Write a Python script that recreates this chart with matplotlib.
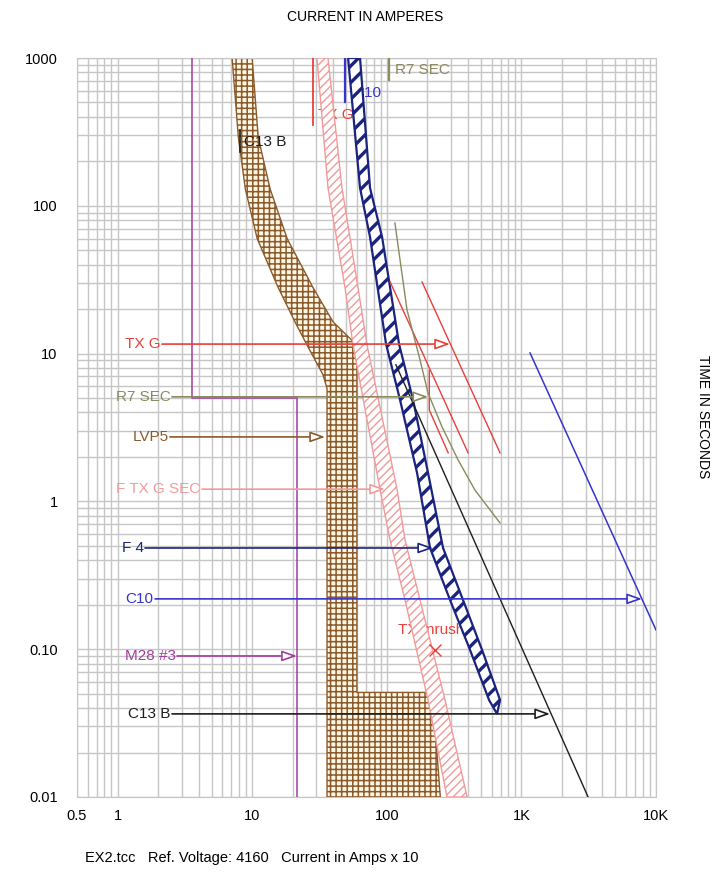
import numpy as np
import matplotlib
matplotlib.use('Agg')
import matplotlib.pyplot as plt
from matplotlib.patches import Polygon
from matplotlib.ticker import FixedLocator, FixedFormatter, LogLocator, NullFormatter

plt.rcParams['font.family'] = ['Liberation Sans', 'DejaVu Sans']

# ---------------- axis ticks ----------------
x_ticks = [0.5, 1, 10, 100, 1000, 10000]
x_tick_labels = ['0.5', '1', '10', '100', '1K', '10K']
y_ticks = [0.01, 0.1, 1, 10, 100, 1000]
y_tick_labels = ['0.01', '0.10', '1', '10', '100', '1000']

# ---------------- C13 B breaker band (current A x10, time s) ----------------
c13b_left_i = [7.1, 7.9, 8.9, 10.9, 15.6, 20.8, 25.6, 33.6, 36.0, 36.0]
c13b_left_t = [1000, 290, 130, 60, 28, 16.4, 11.4, 7.2, 5.8, 0.01]
c13b_right_i = [10.0, 11.1, 13.6, 18.2, 28.3, 39.9, 60.0, 60.0, 218, 250]
c13b_right_t = [1000, 290, 130, 60, 28, 16.4, 11.4, 0.051, 0.051, 0.01]

# ---------------- F TX G SEC fuse band ----------------
ftx_left_i = [30.3, 36.6, 49.0, 56.2, 89.1, 105.8, 136.7, 202.6, 280]
ftx_right_i = [36.6, 46.5, 61.2, 71.4, 119.2, 136.7, 176.7, 271, 395]
ftx_t = [1000, 132, 27.8, 11.4, 1.21, 0.548, 0.215, 0.0453, 0.01]

# ---------------- F 4 fuse band ----------------
f4_left_i = [51.6, 63.3, 75.1, 98.8, 125.5, 167.9, 209.7, 295.3, 415.6, 575.3, 659.7]
f4_right_i = [63.3, 75.1, 92.3, 123.4, 156.8, 202.6, 261.9, 368.7, 510.5, 694.3, 659.7]
f4_t = [1000, 132, 61.5, 11.6, 4.86, 1.56, 0.484, 0.215, 0.0988, 0.0453, 0.0365]

# ---------------- M28 #3 ----------------
m28_i = [3.57, 3.57, 21.5, 21.5]
m28_t = [1000, 5.0, 5.0, 0.01]

# ---------------- TX G damage curve ----------------
txg_a_i = [183, 694]
txg_a_t = [30.5, 2.13]
txg_b_i = [106, 402]
txg_b_t = [30.5, 2.13]
txg_c_i = [207, 207, 286]
txg_c_t = [7.7, 4.15, 2.13]
txg_lead_i = [28.3, 28.3]
txg_lead_t = [1000, 350]

# ---------------- R7 SEC ----------------
r7_i = [115, 125.5, 141.5, 176.7, 202.6, 257.5, 338.5, 452.8, 694.3]
r7_t = [76.5, 43.0, 19.7, 9.05, 5.41, 3.19, 1.91, 1.19, 0.714]
r7_lead_i = [104, 104]
r7_lead_t = [1000, 710]

# ---------------- C13 B instantaneous line ----------------
c13i_i = [117, 3130]
c13i_t = [8.4, 0.01]
c13_lead_i = [8.13, 8.13]
c13_lead_t = [326, 231]

# ---------------- C10 ----------------
c10_i = [1160, 10000]
c10_t = [10.1, 0.135]
c10_lead_i = [49.0, 49.0]
c10_lead_t = [1000, 504]

# ---------------- TX inrush point ----------------
inrush_i = [230]
inrush_t = [0.0988]

# ---------------- labelled arrows ----------------
arrow_labels = ['TX G', 'R7 SEC', 'LVP5', 'F TX G SEC', 'F 4', 'C10', 'M28 #3', 'C13 B']
arrow_colors = ['#E8403A', '#8A8A5E', '#8B5A2B', '#F29A9A', '#1A237E', '#3535CC', '#A03C9E', '#1E1E1E']
arrow_times = [11.6, 5.1, 2.73, 1.21, 0.484, 0.219, 0.090, 0.0365]
arrow_start = [2.14, 2.54, 2.45, 4.24, 1.6, 1.9, 2.77, 2.54]
arrow_end = [295, 203, 34.8, 97, 221, 7880, 21.5, 1633]

RED = '#E8403A'
OLIVE = '#8A8A5E'
BROWN = '#8B5A2B'
PINK = '#F29A9A'
NAVY = '#1A237E'
BLUE = '#3535CC'
PURPLE = '#A03C9E'
BLACK = '#1E1E1E'

fig = plt.figure(figsize=(7.15, 8.73), dpi=100)
ax = fig.add_axes([77 / 715, 76 / 873, 579 / 715, 739 / 873])
ax.set_xscale('log')
ax.set_yscale('log')
ax.set_xlim(0.5, 10000)
ax.set_ylim(0.01, 1000)

ax.xaxis.set_major_locator(FixedLocator(x_ticks))
ax.xaxis.set_major_formatter(FixedFormatter(x_tick_labels))
ax.yaxis.set_major_locator(FixedLocator(y_ticks))
ax.yaxis.set_major_formatter(FixedFormatter(y_tick_labels))
for axis in (ax.xaxis, ax.yaxis):
    axis.set_minor_locator(LogLocator(base=10, subs=np.arange(2, 10), numticks=100))
    axis.set_minor_formatter(NullFormatter())
ax.tick_params(which='both', length=0)
ax.tick_params(axis='x', pad=9, labelsize=10.5)
ax.tick_params(axis='y', pad=14, labelsize=10.5)
ax.grid(True, which='both', color='#C6C6C6', lw=1.0, zorder=0)
ax.set_axisbelow(True)
for s in ax.spines.values():
    s.set_color('#C6C6C6')


def band(li, lt, ri, rt, fc, ec, hatch, hlw, lw, z):
    pts = list(zip(li, lt)) + list(zip(ri[::-1], rt[::-1]))
    with plt.rc_context({'hatch.linewidth': hlw}):
        p = Polygon(pts, closed=True, fc=fc, ec=ec, hatch=hatch, lw=lw, zorder=z)
        try:
            p.set_hatch_linewidth(hlw)
        except AttributeError:
            pass
    ax.add_patch(p)
    return p


# labels hidden partly under bands
ax.text(30.9, 411, 'TX G', color=RED, fontsize=11, ha='left', va='center', zorder=1.5)
ax.text(56.2, 580, 'C10', color=BLUE, fontsize=11, ha='left', va='center', zorder=1.5)
ax.text(121, 0.135, 'TX Inrush', color=RED, fontsize=11, ha='left', va='center', zorder=1.5)

band(c13b_left_i, c13b_left_t, c13b_right_i, c13b_right_t, '#FFF6E4', BROWN, '+++', 1.1, 1.0, 2)
band(ftx_left_i, ftx_t, ftx_right_i, ftx_t, 'white', PINK, '////', 1.0, 1.0, 3)
band(f4_left_i, f4_t, f4_right_i, f4_t, 'white', NAVY, '//', 2.4, 1.6, 4)

# curves
ax.plot(m28_i, m28_t, color=PURPLE, lw=1.1, zorder=5)
ax.plot(txg_a_i, txg_a_t, color=RED, lw=1.0, zorder=5)
ax.plot(txg_b_i, txg_b_t, color=RED, lw=1.0, zorder=5)
ax.plot(txg_c_i, txg_c_t, color=RED, lw=1.0, zorder=5)
ax.plot(txg_lead_i, txg_lead_t, color=RED, lw=1.3, zorder=5)
ax.plot(r7_i, r7_t, color=OLIVE, lw=1.0, zorder=5)
ax.plot(r7_lead_i, r7_lead_t, color=OLIVE, lw=1.6, zorder=5)
ax.plot(c13i_i, c13i_t, color=BLACK, lw=1.0, zorder=5)
ax.plot(c13_lead_i, c13_lead_t, color=BLACK, lw=1.2, zorder=5)
ax.plot(c10_i, c10_t, color=BLUE, lw=1.1, zorder=5)
ax.plot(c10_lead_i, c10_lead_t, color=BLUE, lw=1.6, zorder=5)
ax.plot(inrush_i, inrush_t, marker='x', ms=8, mew=1.0, color=RED, ls='none', zorder=5)

ax.text(115.2, 829, 'R7 SEC', color=OLIVE, fontsize=11, ha='left', va='center', zorder=6)
ax.text(8.7, 270, 'C13 B', color=BLACK, fontsize=11, ha='left', va='center', zorder=6)

for lab, col, t, s, e in zip(arrow_labels, arrow_colors, arrow_times, arrow_start, arrow_end):
    ax.annotate('', xy=(e, t), xytext=(s, t),
                arrowprops=dict(arrowstyle='-|>,head_length=0.9,head_width=0.32',
                                fc='white', ec=col, lw=1.2, shrinkA=0, shrinkB=0,
                                mutation_scale=10),
                zorder=10)
    ax.annotate(lab, xy=(s, t), xytext=(-1, 0), textcoords='offset points',
                ha='right', va='center', color=col, fontsize=11, zorder=10)

fig.text(365 / 715, 1 - 17 / 873, 'CURRENT IN AMPERES', ha='center', va='center', fontsize=10)
fig.text(703 / 715, 1 - 417 / 873, 'TIME IN SECONDS', ha='center', va='center', fontsize=10, rotation=-90)
fig.text(85 / 715, 1 - 858 / 873, 'EX2.tcc   Ref. Voltage: 4160   Current in Amps x 10',
         ha='left', va='center', fontsize=10.5)

fig.savefig('out.png', dpi=100)
